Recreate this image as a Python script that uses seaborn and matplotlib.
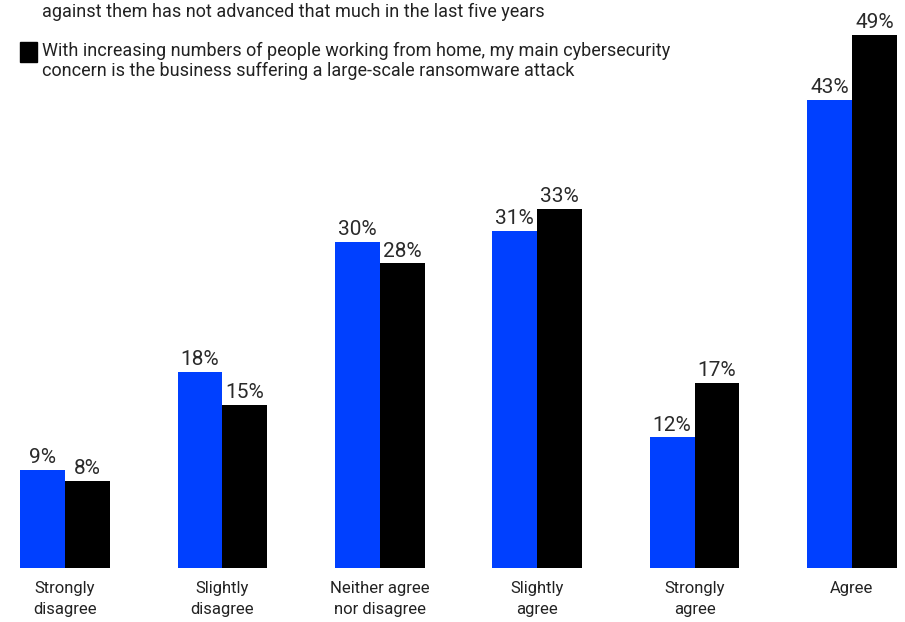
import matplotlib
matplotlib.use("Agg")
import matplotlib.pyplot as plt
from matplotlib.patches import Rectangle
import seaborn as sns
import pandas as pd

categories = ["Strongly\ndisagree", "Slightly\ndisagree", "Neither agree\nnor disagree",
              "Slightly\nagree", "Strongly\nagree", "Agree"]
series_names = ["advanced", "ransomware"]
advanced_vals = [9, 18, 30, 31, 12, 43]
ransomware_vals = [8, 15, 28, 33, 17, 49]
colors = ["#0040FF", "#000000"]

legend_tail = "against them has not advanced that much in the last five years"
legend_second = ("With increasing numbers of people working from home, my main cybersecurity\n"
                 "concern is the business suffering a large-scale ransomware attack")

sns.set_theme(style="white")
label_font = ["Roboto", "DejaVu Sans"]
value_font = ["Roboto", "DejaVu Sans"]

df = pd.DataFrame({
    "category": categories * 2,
    "series": [series_names[0]] * len(categories) + [series_names[1]] * len(categories),
    "value": advanced_vals + ransomware_vals,
})

W, H = 905, 622
fig = plt.figure(figsize=(W / 100, H / 100), dpi=100)
ax = fig.add_axes([0, 1 - 568 / H, 1, 568 / H])

sns.barplot(data=df, x="category", y="value", hue="series", order=categories,
            hue_order=series_names, palette=colors, width=0.57, gap=0,
            saturation=1, legend=False, linewidth=0, ax=ax)

ax.set_xlim(-65 / 157.4, 840 / 157.4)
ax.set_ylim(0, 568 / 10.88)

for container in ax.containers:
    for bar in container:
        h = bar.get_height()
        ax.annotate(f"{h:.0f}%", (bar.get_x() + bar.get_width() / 2, h),
                    xytext=(0, 2), textcoords="offset points",
                    ha="center", va="bottom", fontsize=15, family=value_font,
                    color="#2a2a2a")

ax.set_xlabel("")
ax.set_ylabel("")
ax.set_yticks([])
ax.tick_params(axis="x", length=0, pad=9)
for lbl in ax.get_xticklabels():
    lbl.set_fontsize(12)
    lbl.set_family(label_font)
    lbl.set_color("#222222")
    lbl.set_linespacing(1.55)
for s in ax.spines.values():
    s.set_visible(False)

# legend drawn by hand in pixel coordinates
fig.text(42 / W, 1 - 12 / H, legend_tail, ha="left", va="center",
         fontsize=13, family=label_font, color="#222222")
fig.add_artist(Rectangle((20 / W, 1 - 62 / H), 17 / W, 20 / H,
                         transform=fig.transFigure, color="#000000"))
fig.text(42 / W, 1 - 61 / H, legend_second, ha="left", va="center",
         fontsize=13, family=label_font, color="#222222", linespacing=1.15)

fig.savefig("out.png", dpi=100)
